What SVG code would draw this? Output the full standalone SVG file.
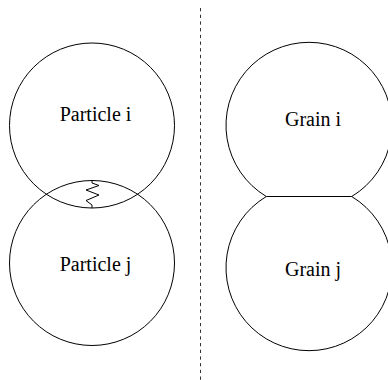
<svg xmlns="http://www.w3.org/2000/svg" width="388" height="380" viewBox="0 0 388 380">
<style>
.c{fill:none;stroke:#000;stroke-width:1}
.t{font-family:"Liberation Serif","Times New Roman",serif;font-size:20px;fill:#000;text-anchor:middle}
.l{fill:none;stroke:#000;stroke-width:1}
</style>
<rect width="388" height="380" fill="#fff"/>
<g id="particle-i"><circle class="c" cx="92" cy="125.5" r="82.5"/><text class="t" x="95.5" y="120.5">Particle i</text></g>
<g id="particle-j"><circle class="c" cx="92" cy="263" r="82.5"/><text class="t" x="95.5" y="270.5">Particle j</text></g>
<g id="grain-i"><path class="c" d="M266.3 196.5 A83 83 0 1 1 351.7 196.5"/><text class="t" x="313" y="126">Grain i</text></g>
<g id="grain-j"><path class="c" d="M266.3 196.5 A83 83 0 1 0 351.7 196.5"/><text class="t" x="313" y="276">Grain j</text></g>
<g id="connectors">
<polyline class="l" points="92,180.5 92,183 99,185.5 86,190 99,195 86,200.5 92,205 92,208"/>
<line class="l" x1="266.3" y1="196.5" x2="351.7" y2="196.5"/>
<line x1="200.5" y1="8" x2="200.5" y2="380" stroke="#333" stroke-width="1" stroke-dasharray="3.3 3.4"/>
</g>
</svg>
